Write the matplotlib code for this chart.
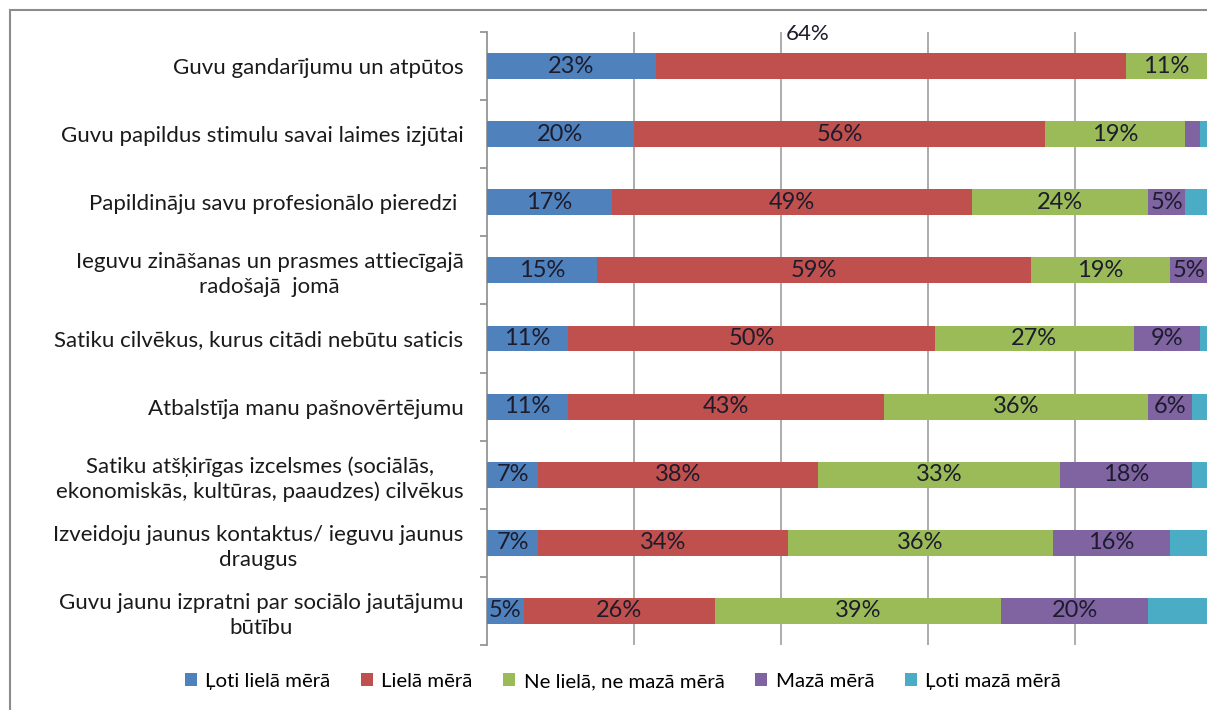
import matplotlib.pyplot as plt
import numpy as np
from matplotlib.patches import Rectangle

plt.rcParams['font.family'] = ['Lato', 'DejaVu Sans']

categories = [
    "Guvu gandarījumu un atpūtos",
    "Guvu papildus stimulu savai laimes izjūtai",
    "Papildināju savu profesionālo pieredzi ",
    "Ieguvu zināšanas un prasmes attiecīgajā\nradošajā  jomā",
    "Satiku cilvēkus, kurus citādi nebūtu saticis",
    "Atbalstīja manu pašnovērtējumu",
    "Satiku atšķirīgas izcelsmes (sociālās,\nekonomiskās, kultūras, paaudzes) cilvēkus",
    "Izveidoju jaunus kontaktus/ ieguvu jaunus\ndraugus",
    "Guvu jaunu izpratni par sociālo jautājumu\nbūtību",
]
series_names = ["Ļoti lielā mērā", "Lielā mērā", "Ne lielā, ne mazā mērā",
                "Mazā mērā", "Ļoti mazā mērā"]
loti_liela = [23, 20, 17, 15, 11, 11, 7, 7, 5]
liela = [64, 56, 49, 59, 50, 43, 38, 34, 26]
ne_ne = [11, 19, 24, 19, 27, 36, 33, 36, 39]
maza = [1, 2, 5, 5, 9, 6, 18, 16, 20]
loti_maza = [1, 3, 5, 2, 3, 4, 4, 7, 10]
colors = ["#4F81BD", "#C0504D", "#9BBB59", "#8064A2", "#4BACC6"]

data = [loti_liela, liela, ne_ne, maza, loti_maza]

fig = plt.figure(figsize=(12.07, 7.10), dpi=100)
ax = fig.add_axes([487 / 1207, 65 / 710, 1 - 487 / 1207, 613 / 710])

# outer chart frame (cropped on right/bottom)
fig.patches.append(Rectangle((10 / 1207, -0.1), 1.2, 1 - 10 / 710 + 0.1,
                             transform=fig.transFigure, fill=False,
                             edgecolor="#8c8c8c", lw=1.5))

y = np.arange(len(categories))
left = np.zeros(len(categories))
for i, (vals, name, c) in enumerate(zip(data, series_names, colors)):
    vals = np.array(vals, dtype=float)
    bars = ax.barh(y, vals, left=left, height=0.38, color=c, label=name, zorder=3)
    if i < 4:
        for j, (b, v) in enumerate(zip(bars, vals)):
            if v < 5 or (i == 1 and j == 0):
                continue
            ax.text(left[j] + v / 2, y[j], f"{int(v)}%", ha="center", va="center",
                    fontsize=17, color="#1c1c2c", zorder=4)
    left += vals

# moved label of the first red segment
ax.text(40.6, -0.47, f"{liela[0]}%", ha="left", va="center", fontsize=16,
        color="#1c1c2c", zorder=4)

ax.set_xlim(0, 98)
ax.set_ylim(len(categories) - 0.5, -0.5)
ax.set_xticks([20, 40, 60, 80])
ax.set_xticklabels([])
ax.tick_params(axis="x", length=0)
ax.grid(axis="x", color="#a6a6a6", lw=1.3, zorder=0)

ax.set_yticks(y)
ax.set_yticklabels(categories, fontsize=16, color="#1a1a1a",
                   multialignment="center", linespacing=1.3)
ax.tick_params(axis="y", length=0, pad=17)
ax.set_yticks(np.arange(len(categories) + 1) - 0.5, minor=True)
ax.tick_params(axis="y", which="minor", length=5, color="#8c8c8c", width=1.2)

for s in ["top", "right", "bottom"]:
    ax.spines[s].set_visible(False)
ax.spines["left"].set_color("#8c8c8c")
ax.spines["left"].set_linewidth(1.2)

fig.legend(loc="center", bbox_to_anchor=(0.516, 0.04), ncol=5, frameon=False,
           fontsize=14.7, handlelength=0.6, handleheight=0.6, handletextpad=0.4,
           columnspacing=1.5)

fig.savefig("out.png", dpi=100)
